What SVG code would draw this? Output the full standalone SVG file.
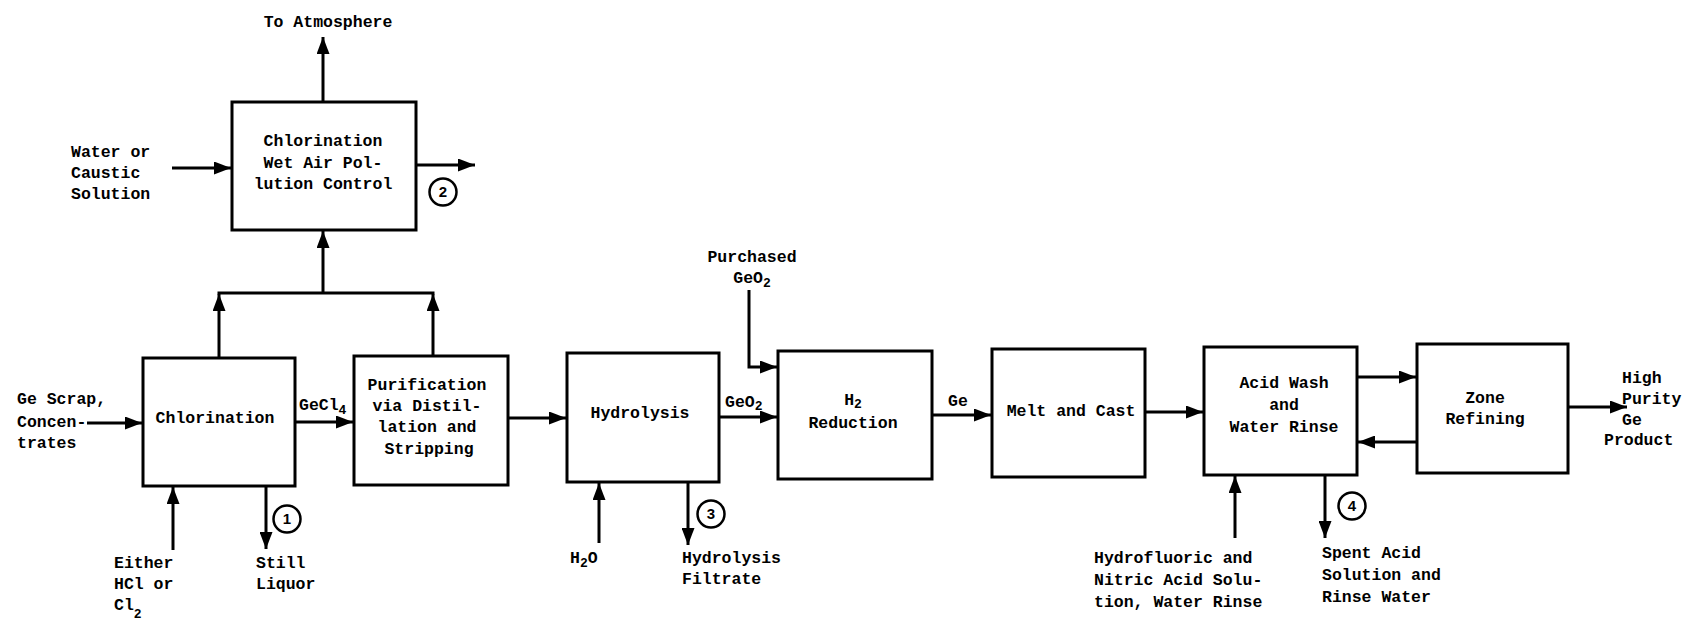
<svg xmlns="http://www.w3.org/2000/svg" width="1684" height="623" viewBox="0 0 1684 623">
<style>
.box{fill:#fff;stroke:#000;stroke-width:3}
.ln{fill:none;stroke:#000;stroke-width:3}
.t{font-family:"Liberation Mono","DejaVu Sans Mono",monospace;font-weight:bold;font-size:16.5px;fill:#000}
.c{text-anchor:middle}
.circ{fill:#fff;stroke:#000;stroke-width:2.5}
.num{font-family:"Liberation Sans",Arial,sans-serif;font-weight:bold;font-size:15px;text-anchor:middle}
</style>
<defs>
<marker id="ah" markerUnits="userSpaceOnUse" markerWidth="17" markerHeight="13" refX="17" refY="6.5" orient="auto">
<path d="M0,0 L17,6.5 L0,13 z" fill="#000"/>
</marker>
</defs>
<rect width="1684" height="623" fill="#fff"/>
<g id="connectors">
<line class="ln" x1="323" y1="102" x2="323" y2="37" marker-end="url(#ah)"/>
<line class="ln" x1="172" y1="168" x2="231" y2="168" marker-end="url(#ah)"/>
<line class="ln" x1="416" y1="165" x2="475" y2="165" marker-end="url(#ah)"/>
<line class="ln" x1="323" y1="293" x2="323" y2="231" marker-end="url(#ah)"/>
<line class="ln" x1="217.5" y1="293" x2="434.5" y2="293"/>
<line class="ln" x1="219" y1="358" x2="219" y2="294" marker-end="url(#ah)"/>
<line class="ln" x1="433" y1="356" x2="433" y2="294" marker-end="url(#ah)"/>
<line class="ln" x1="87" y1="423" x2="142" y2="423" marker-end="url(#ah)"/>
<line class="ln" x1="295" y1="422" x2="353" y2="422" marker-end="url(#ah)"/>
<line class="ln" x1="508" y1="418" x2="566" y2="418" marker-end="url(#ah)"/>
<line class="ln" x1="173" y1="550" x2="173" y2="487" marker-end="url(#ah)"/>
<line class="ln" x1="266" y1="486" x2="266" y2="549" marker-end="url(#ah)"/>
<line class="ln" x1="599" y1="543" x2="599" y2="483" marker-end="url(#ah)"/>
<line class="ln" x1="688" y1="482" x2="688" y2="545" marker-end="url(#ah)"/>
<line class="ln" x1="719" y1="417" x2="777" y2="417" marker-end="url(#ah)"/>
<path class="ln" d="M749,290 V367 H777" marker-end="url(#ah)"/>
<line class="ln" x1="932" y1="415" x2="991" y2="415" marker-end="url(#ah)"/>
<line class="ln" x1="1145" y1="412" x2="1203" y2="412" marker-end="url(#ah)"/>
<line class="ln" x1="1357" y1="377" x2="1416" y2="377" marker-end="url(#ah)"/>
<line class="ln" x1="1417" y1="442" x2="1358" y2="442" marker-end="url(#ah)"/>
<line class="ln" x1="1568" y1="407" x2="1627" y2="407" marker-end="url(#ah)"/>
<line class="ln" x1="1235" y1="538" x2="1235" y2="476" marker-end="url(#ah)"/>
<line class="ln" x1="1325" y1="475" x2="1325" y2="538" marker-end="url(#ah)"/>
</g>
<g id="apc">
<rect class="box" x="232" y="102" width="184" height="128"/>
<text class="t c" x="323" y="146">Chlorination</text>
<text class="t c" x="323" y="168">Wet Air Pol-</text>
<text class="t c" x="323" y="189">lution Control</text>
</g>
<g id="chlorination">
<rect class="box" x="143" y="358" width="152" height="128"/>
<text class="t c" x="215" y="423">Chlorination</text>
</g>
<g id="purification">
<rect class="box" x="354" y="356" width="154" height="129"/>
<text class="t c" x="427" y="390">Purification</text>
<text class="t c" x="427" y="411">via Distil-</text>
<text class="t c" x="427" y="432">lation and</text>
<text class="t c" x="429" y="454">Stripping</text>
</g>
<g id="hydrolysis">
<rect class="box" x="567" y="353" width="152" height="129"/>
<text class="t c" x="640" y="418">Hydrolysis</text>
</g>
<g id="reduction">
<rect class="box" x="778" y="351" width="154" height="128"/>
<text class="t c" x="853" y="405">H<tspan font-size="13" dy="3">2</tspan></text>
<text class="t c" x="853" y="428">Reduction</text>
</g>
<g id="melt">
<rect class="box" x="992" y="349" width="153" height="128"/>
<text class="t c" x="1071" y="416">Melt and Cast</text>
</g>
<g id="acidwash">
<rect class="box" x="1204" y="347" width="153" height="128"/>
<text class="t c" x="1284" y="388">Acid Wash</text>
<text class="t c" x="1284" y="410">and</text>
<text class="t c" x="1284" y="432">Water Rinse</text>
</g>
<g id="zone">
<rect class="box" x="1417" y="344" width="151" height="129"/>
<text class="t c" x="1485" y="403">Zone</text>
<text class="t c" x="1485" y="424">Refining</text>
</g>
<g id="labels">
<text class="t c" x="328" y="27">To Atmosphere</text>
<text class="t" x="71" y="157">Water or</text>
<text class="t" x="71" y="178">Caustic</text>
<text class="t" x="71" y="199">Solution</text>
<text class="t" x="17" y="404">Ge Scrap,</text>
<text class="t" x="17" y="427">Concen-</text>
<text class="t" x="17" y="448">trates</text>
<text class="t" x="299" y="410">GeCl<tspan font-size="13" dy="4">4</tspan></text>
<text class="t" x="114" y="568">Either</text>
<text class="t" x="114" y="589">HCl or</text>
<text class="t" x="114" y="610">Cl<tspan font-size="13" dy="8">2</tspan></text>
<text class="t" x="256" y="568">Still</text>
<text class="t" x="256" y="589">Liquor</text>
<text class="t c" x="752" y="262">Purchased</text>
<text class="t c" x="752" y="283">GeO<tspan font-size="13" dy="4">2</tspan></text>
<text class="t" x="725" y="407">GeO<tspan font-size="13" dy="3">2</tspan></text>
<text class="t" x="570" y="563">H<tspan font-size="13" dy="4">2</tspan><tspan dy="-4">O</tspan></text>
<text class="t" x="682" y="563">Hydrolysis</text>
<text class="t" x="682" y="584">Filtrate</text>
<text class="t c" x="958" y="406">Ge</text>
<text class="t" x="1622" y="383">High</text>
<text class="t" x="1622" y="404">Purity</text>
<text class="t" x="1622" y="425">Ge</text>
<text class="t" x="1604" y="445">Product</text>
<text class="t" x="1094" y="563">Hydrofluoric and</text>
<text class="t" x="1094" y="585">Nitric Acid Solu-</text>
<text class="t" x="1094" y="607">tion, Water Rinse</text>
<text class="t" x="1322" y="558">Spent Acid</text>
<text class="t" x="1322" y="580">Solution and</text>
<text class="t" x="1322" y="602">Rinse Water</text>
</g>
<g id="streams">
<circle class="circ" cx="287" cy="519" r="13.5"/><text class="num" x="287" y="524">1</text>
<circle class="circ" cx="443" cy="192" r="13.5"/><text class="num" x="443" y="197">2</text>
<circle class="circ" cx="711" cy="514" r="13.5"/><text class="num" x="711" y="519">3</text>
<circle class="circ" cx="1352" cy="506" r="13.5"/><text class="num" x="1352" y="511">4</text>
</g>
</svg>
